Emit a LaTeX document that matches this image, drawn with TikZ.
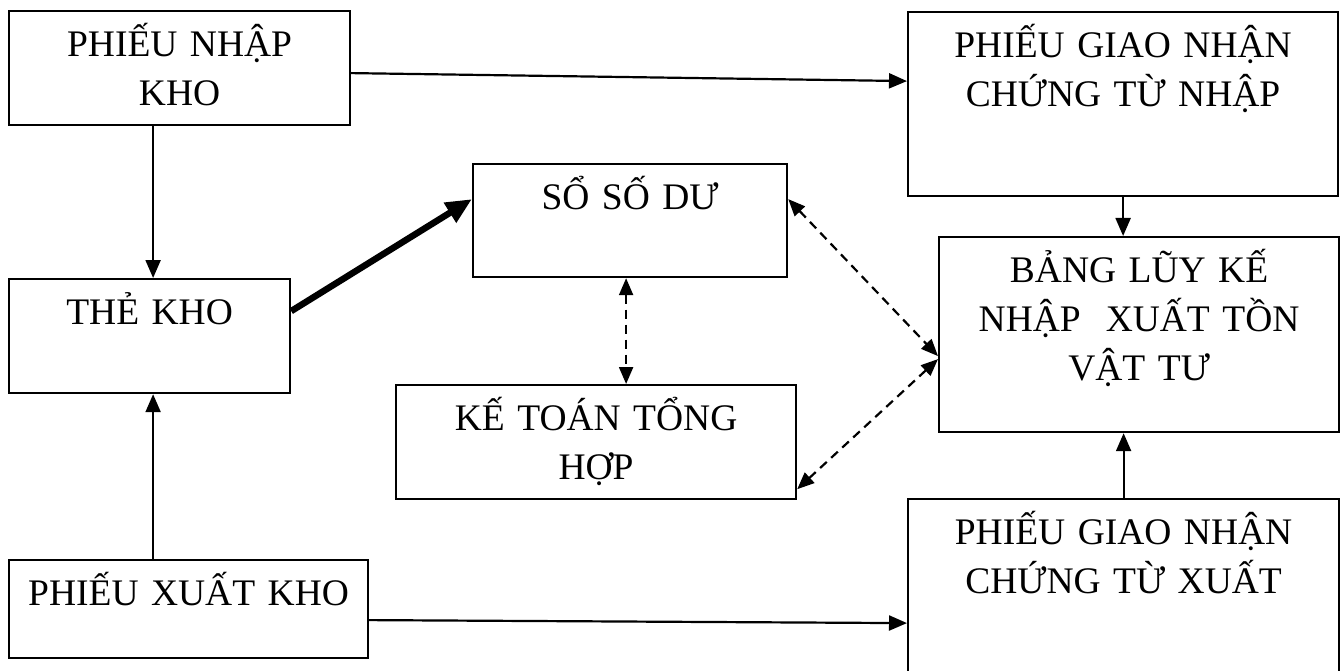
\documentclass[tikz,border=0pt]{standalone}
\usepackage{fontspec}
\setmainfont{Liberation Serif}
\usepackage{tikz}
\usetikzlibrary{arrows.meta}

\begin{document}
\begin{tikzpicture}[x=1pt, y=-1pt,
  box/.style={draw, line width=2.2pt, anchor=north west, inner sep=0pt, align=center, text height=45pt, font=\fontsize{37.5}{49}\selectfont},
  arrow/.style={-{Triangle[length=18pt, width=15pt]}, line width=2.2pt},
  bigarrow/.style={-{Triangle[length=26pt, width=22pt]}, line width=6.5pt},
  dasharrow/.style={{Triangle[length=17pt, width=14pt]}-{Triangle[length=17pt, width=14pt]}, line width=2.2pt, dash pattern=on 9pt off 6pt},
]
\useasboundingbox (0,0) rectangle (1341,671);
\clip (0,0) rectangle (1341,671);

\node[box, text width=341pt, text depth=69pt] (pnk) at (8,10) {PHIẾU NHẬP\\KHO};
\node[box, text width=430pt, text depth=139pt] (pgnn) at (907,11) {PHIẾU GIAO NHẬN\\CHỨNG TỪ NHẬP};
\node[box, text width=314pt, text depth=68pt] (ssd) at (472,163) {SỔ SỐ DƯ};
\node[box, text width=281pt, text depth=69pt] (thk) at (8,278) {THẺ KHO};
\node[box, text width=400pt, text depth=150pt] (blk) at (938,236) {BẢNG LŨY KẾ\\NHẬP\ \ XUẤT TỒN\\VẬT TƯ};
\node[box, text width=400pt, text depth=69pt] (ktth) at (395,384) {KẾ TOÁN TỔNG\\HỢP};
\node[box, text width=359pt, text depth=53pt] (pxk) at (8,559) {PHIẾU XUẤT KHO};
\node[box, text width=431pt, text depth=155pt] (pgnx) at (907,498) {PHIẾU GIAO NHẬN\\CHỨNG TỪ XUẤT};

\draw[arrow] ([yshift=-5pt]pnk.east) -- ([yshift=23pt]pgnn.west);
\draw[arrow] ([xshift=-26.5pt]pnk.south) -- ([xshift=3.5pt]thk.north);
\draw[arrow] ([xshift=-35.5pt]pxk.north) -- ([xshift=3.5pt]thk.south);
\draw[bigarrow] ([yshift=25pt]thk.east) -- ([yshift=21.5pt]ssd.west);
\draw[arrow] (pgnn.south) -- (pgnn.south |- blk.north);
\draw[arrow] (pgnx.north) -- (pgnx.north |- blk.south);
\draw[arrow] ([yshift=-11pt]pxk.east) -- ([yshift=-24pt]pgnx.west);
\draw[dasharrow] ([xshift=-4pt]ssd.south) -- ([xshift=-4pt]ssd.south |- ktth.north);
\draw[dasharrow] ([yshift=21.5pt]ssd.east) -- ([yshift=-21.5pt]blk.west);
\draw[dasharrow] ([yshift=-24.5pt]blk.west) -- ([yshift=11pt]ktth.south east);
\end{tikzpicture}
\end{document}
